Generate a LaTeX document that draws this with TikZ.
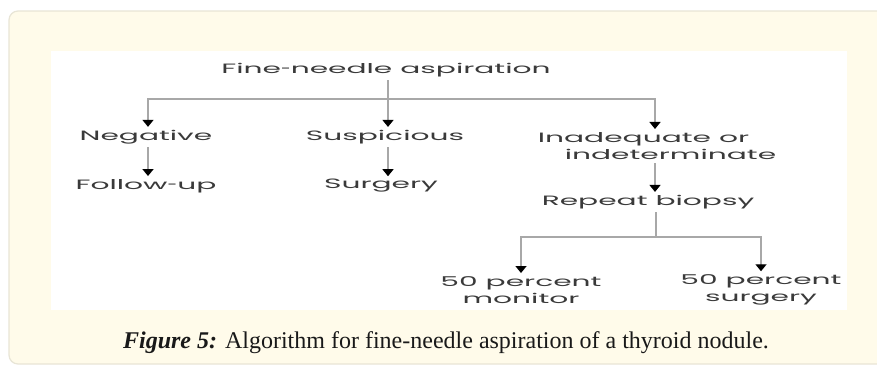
\documentclass[tikz,border=0pt]{standalone}
\usepackage{fontspec}
\setmainfont{Liberation Serif}
\newfontfamily\schemafont[FakeStretch=2.2]{Poppins}
\newfontfamily\tiretfont[FakeStretch=1.3]{Poppins}
\newcommand{\tiret}{{\tiretfont-}}
\usepackage{xcolor}
\definecolor{creme}{HTML}{FFFBEA}
\definecolor{bordure}{HTML}{E8E5D6}
\definecolor{trait}{HTML}{A8A8A8}
\definecolor{encre}{HTML}{3A3A3A}
\usetikzlibrary{arrows.meta}

\begin{document}
\begin{tikzpicture}[x=1pt, y=-1pt,
      etape/.style={font=\schemafont\fontsize{13.5}{17.5}\selectfont,
                    text=encre, inner xsep=0pt, inner ysep=3pt},
      ligne/.style={draw=trait, line width=1.4pt},
      fleche/.style={ligne, -{Triangle[width=11pt, length=7pt, color=black]}}]
    \useasboundingbox (0,0) rectangle (877,367);
    \clip (0,0) rectangle (877,367);
    \fill[white] (0,0) rectangle (877,367);
    % cadre de la figure
    \draw[bordure, fill=creme, line width=1.2pt, rounded corners=9pt]
      (9,11) rectangle (900,364);
    \fill[white] (51,51) rectangle (847,310);
    % arbre
    \node[etape] (fna)    at (386,70)  {Fine\tiret needle aspiration};
    \node[etape] (neg)    at (146,137) {Negative};
    \node[etape] (susp)   at (385,137) {Suspicious};
    \node[etape, align=left] (inad) at (657,146)
      {Inadequate or\\\hspace*{27pt}indeterminate};
    \node[etape] (suivi)  at (146,186) {Follow\tiret up};
    \node[etape] (chir)   at (381,186) {Surgery};
    \node[etape] (biop)   at (648,202) {Repeat biopsy};
    \node[etape, align=center] (moni) at (521,290) {50 percent\\monitor};
    \node[etape, align=center] (opere) at (761,290) {50 percent\\surgery};
    \coordinate (tronc)  at (388,99);
    \coordinate (fourche) at (656,237);
    \draw[ligne]  (fna.south -| tronc) -- (tronc);
    \draw[fleche] (tronc) -| ([xshift=2pt]neg.north);
    \draw[fleche] (tronc) -- (tronc |- susp.north);
    \draw[fleche] (tronc) -| ([xshift=-2pt]inad.north);
    \draw[fleche] ([xshift=2pt]neg.south) -- ([xshift=2pt]suivi.north);
    \draw[fleche] (susp.south -| tronc) -- (tronc |- chir.north);
    \draw[fleche] ([xshift=-2pt]inad.south) -- ([xshift=-2pt]inad.south |- biop.north);
    \draw[ligne]  (biop.south -| fourche) -- (fourche);
    \draw[fleche] (fourche) -| (moni);
    \draw[fleche] (fourche) -| (opere);
    % legende
    \node[font=\fontsize{24}{28}\selectfont, text=black!90, inner sep=0pt,
          anchor=base] (legende) at (446,348)
      {\textbf{\textit{Figure 5:}} Algorithm for fine-needle aspiration of a thyroid nodule.};
\end{tikzpicture}
\end{document}
